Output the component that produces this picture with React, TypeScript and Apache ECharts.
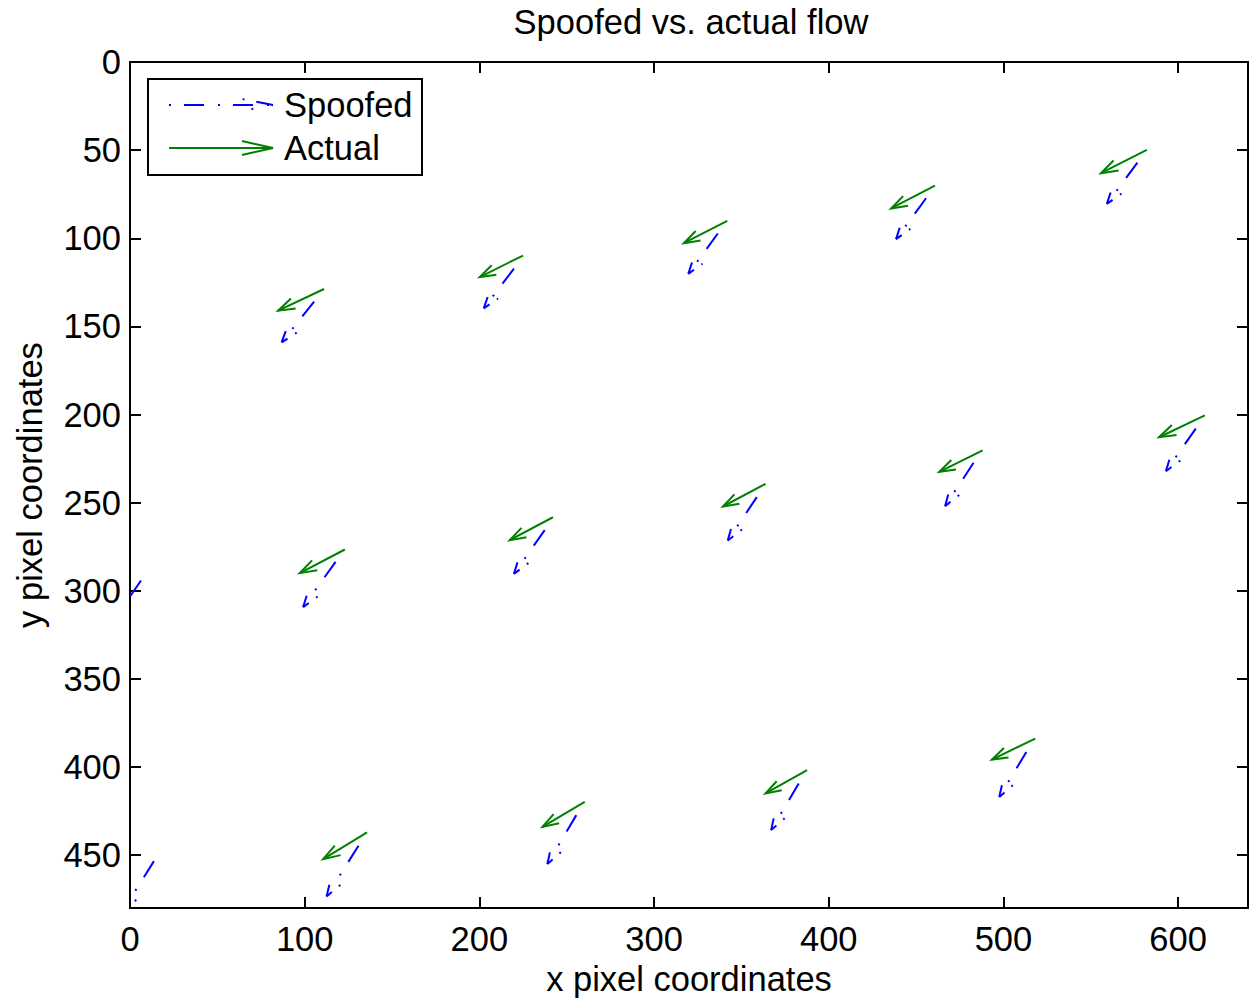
import React, { useEffect, useRef } from "react";
import * as echarts from "echarts";

const titleText = "Spoofed vs. actual flow";
const xName = "x pixel coordinates";
const yName = "y pixel coordinates";
const xTicks = [0, 100, 200, 300, 400, 500, 600];
const yTicks = [0, 50, 100, 150, 200, 250, 300, 350, 400, 450];
const xRange = [0, 640];
const yRange = [0, 480];

// [x, y, u, v] in image pixel coordinates
const actualVectors = [
  [111.1, 128.8, -26.3, 12.3],
  [225.0, 109.8, -24.8, 12.2],
  [341.9, 90.1, -24.9, 12.7],
  [460.8, 70.1, -25.1, 13.0],
  [582.1, 49.9, -26.3, 13.2],
  [123.0, 276.6, -25.8, 13.4],
  [242.1, 258.3, -24.7, 13.0],
  [363.8, 239.3, -24.4, 12.9],
  [488.1, 220.3, -24.8, 12.2],
  [615.3, 200.5, -26.2, 12.4],
  [135.7, 437.1, -25.1, 15.2],
  [260.3, 419.8, -24.2, 14.2],
  [387.6, 401.8, -23.8, 13.2],
  [518.2, 383.9, -24.8, 11.9],
];

const spoofedVectors = [
  [105.4, 135.9, -18.6, 23.2],
  [219.8, 117.2, -17.3, 22.6],
  [336.5, 97.3, -16.9, 22.9],
  [455.7, 77.3, -17.2, 23.2],
  [576.7, 57.1, -17.5, 23.4],
  [6.3, 294.2, -17.5, 25.0],
  [117.7, 283.6, -18.6, 25.7],
  [237.4, 265.6, -17.6, 24.8],
  [358.8, 246.9, -16.6, 24.6],
  [482.9, 227.4, -16.3, 24.6],
  [610.1, 208.0, -17.1, 24.2],
  [13.7, 453.4, -18.0, 28.5],
  [130.8, 444.7, -18.3, 28.7],
  [255.5, 427.3, -16.6, 27.8],
  [382.8, 409.4, -15.8, 26.4],
  [513.1, 391.5, -15.5, 25.5],
];

const FONT = "'Liberation Sans', Arial, Helvetica, sans-serif";
const FS = 34.5;
const GREEN = "#008000";
const BLUE = "#0000ff";

function quiverRender(color: string, dashed: boolean) {
  return (params: any, api: any) => {
    const x = api.value(0);
    const y = api.value(1);
    const u = api.value(2);
    const v = api.value(3);
    const p0 = api.coord([x, y]);
    const p1 = api.coord([x + u, y + v]);
    const dx = p1[0] - p0[0];
    const dy = p1[1] - p0[1];
    const a = 0.33;
    const b = 0.33;
    const b1 = [p1[0] - a * (dx + b * dy), p1[1] - a * (dy - b * dx)];
    const b2 = [p1[0] - a * (dx - b * dy), p1[1] - a * (dy + b * dx)];
    const base = { stroke: color, lineWidth: 2, fill: "none" };
    if (!dashed) {
      return {
        type: "group",
        children: [
          { type: "line", shape: { x1: p0[0], y1: p0[1], x2: p1[0], y2: p1[1] }, style: { ...base } },
          { type: "polyline", shape: { points: [b1, p1, b2] }, style: { ...base } },
        ],
      };
    }
    const steep1 = Math.abs(b1[1] - p1[1]) / (Math.abs(b1[0] - p1[0]) + 1e-6) >
      Math.abs(b2[1] - p1[1]) / (Math.abs(b2[0] - p1[0]) + 1e-6);
    const steep = steep1 ? b1 : b2;
    const shallow = steep1 ? b2 : b1;
    return {
      type: "group",
      children: [
        {
          type: "line",
          shape: { x1: p0[0], y1: p0[1], x2: p1[0], y2: p1[1] },
          style: { ...base, lineDash: [19, 14, 2, 100] },
        },
        {
          type: "line",
          shape: { x1: p1[0], y1: p1[1], x2: steep[0], y2: steep[1] },
          style: { ...base, lineDash: [12, 100] },
        },
        {
          type: "line",
          shape: { x1: p1[0], y1: p1[1], x2: shallow[0], y2: shallow[1] },
          style: { ...base, lineDash: [7, 9, 2, 100] },
        },
      ],
    };
  };
}

function axisCommon(showLabels: boolean, ticks: number[], margin: number) {
  return {
    type: "value",
    axisLine: { show: true, onZero: false, lineStyle: { color: "#000", width: 2 } },
    axisTick: { show: true, inside: true, length: 11, customValues: ticks, lineStyle: { color: "#000", width: 2 } },
    axisLabel: {
      show: showLabels,
      customValues: ticks,
      color: "#000",
      fontSize: FS,
      fontFamily: FONT,
      margin,
    },
    splitLine: { show: false },
  };
}

export default function App() {
  const ref = useRef<HTMLDivElement>(null);
  useEffect(() => {
    if (!ref.current) return;
    const chart = echarts.init(ref.current, null, { renderer: "svg" });
    chart.setOption({
      animation: false,
      backgroundColor: "#fff",
      grid: { left: 130, right: 1, top: 62, bottom: 91, containLabel: false },
      xAxis: [
        { ...axisCommon(true, xTicks, 13), position: "bottom", min: xRange[0], max: xRange[1] },
        { ...axisCommon(false, xTicks, 13), position: "top", min: xRange[0], max: xRange[1] },
      ],
      yAxis: [
        { ...axisCommon(true, yTicks, 9), position: "left", inverse: true, min: yRange[0], max: yRange[1] },
        { ...axisCommon(false, yTicks, 9), position: "right", inverse: true, min: yRange[0], max: yRange[1] },
      ],
      series: [
        {
          type: "custom",
          name: "Spoofed",
          xAxisIndex: 0,
          yAxisIndex: 0,
          clip: true,
          renderItem: quiverRender(BLUE, true),
          encode: { x: 0, y: 1 },
          data: spoofedVectors,
        },
        {
          type: "custom",
          name: "Actual",
          xAxisIndex: 0,
          yAxisIndex: 0,
          clip: true,
          renderItem: quiverRender(GREEN, false),
          encode: { x: 0, y: 1 },
          data: actualVectors,
        },
      ],
      graphic: [
        {
          type: "text",
          x: 691,
          y: 22,
          style: { text: titleText, font: `${FS}px ${FONT}`, fill: "#000", align: "center", verticalAlign: "middle" },
        },
        {
          type: "text",
          x: 689,
          y: 979,
          style: { text: xName, font: `${FS}px ${FONT}`, fill: "#000", align: "center", verticalAlign: "middle" },
        },
        {
          type: "text",
          x: 30,
          y: 485,
          rotation: Math.PI / 2,
          style: { text: yName, font: `${FS}px ${FONT}`, fill: "#000", align: "center", verticalAlign: "middle" },
        },
        {
          type: "group",
          z: 100,
          children: [
            {
              type: "rect",
              shape: { x: 148, y: 79, width: 274, height: 96 },
              style: { fill: "#fff", stroke: "#000", lineWidth: 2 },
            },
            {
              type: "line",
              shape: { x1: 169, y1: 105, x2: 273, y2: 105 },
              style: { stroke: BLUE, lineWidth: 2, lineDash: [2, 13, 20, 14] },
            },
            {
              type: "line",
              shape: { x1: 273, y1: 105, x2: 242, y2: 99 },
              style: { stroke: BLUE, lineWidth: 2, lineDash: [17, 12, 2, 10] },
            },
            {
              type: "line",
              shape: { x1: 273, y1: 105, x2: 242, y2: 111 },
              style: { stroke: BLUE, lineWidth: 2, lineDash: [1, 19, 2, 20] },
            },
            {
              type: "text",
              x: 284,
              y: 105,
              style: { text: "Spoofed", font: `${FS}px ${FONT}`, fill: "#000", align: "left", verticalAlign: "middle" },
            },
            {
              type: "line",
              shape: { x1: 169, y1: 148, x2: 273, y2: 148 },
              style: { stroke: GREEN, lineWidth: 2 },
            },
            {
              type: "polyline",
              shape: { points: [[242, 141], [273, 148], [242, 155]] },
              style: { stroke: GREEN, lineWidth: 2, fill: "none" },
            },
            {
              type: "text",
              x: 284,
              y: 148,
              style: { text: "Actual", font: `${FS}px ${FONT}`, fill: "#000", align: "left", verticalAlign: "middle" },
            },
          ],
        },
      ],
    });
    return () => chart.dispose();
  }, []);
  return (
    <div
      ref={ref}
      style={{ position: "fixed", left: 0, top: 0, width: 1249, height: 999, background: "#fff" }}
    />
  );
}
